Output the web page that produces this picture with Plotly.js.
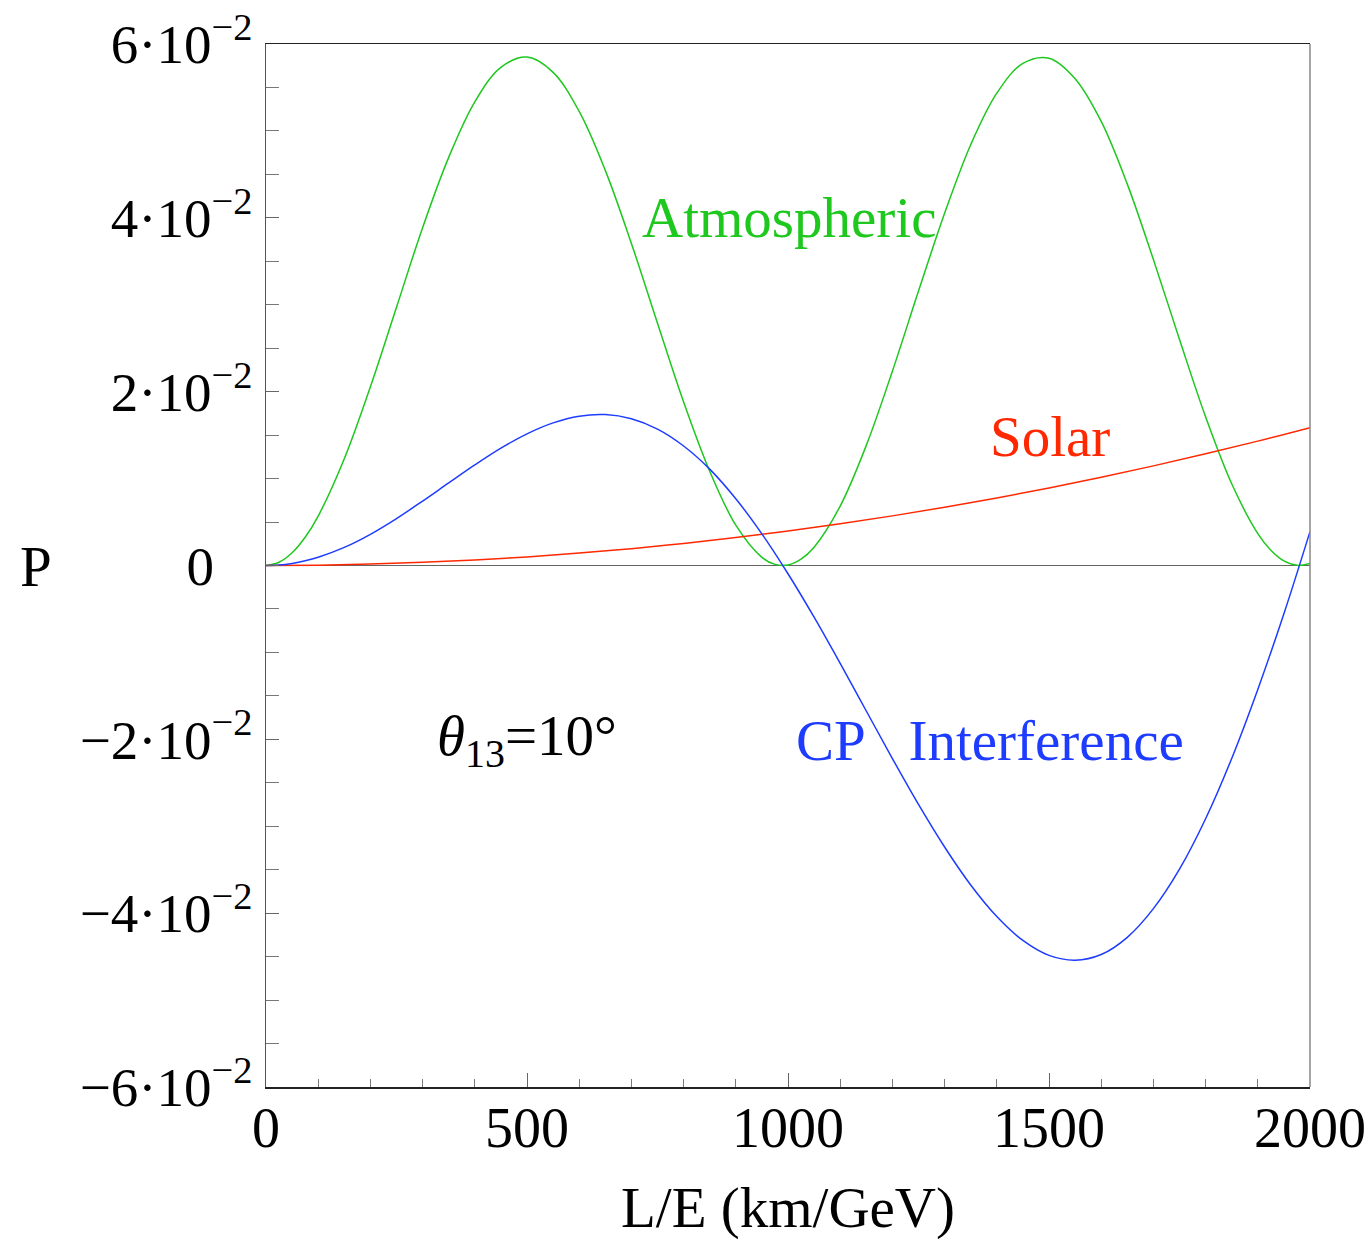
<!DOCTYPE html>
<html>
<head>
<meta charset="utf-8">
<script src="https://cdn.plot.ly/plotly-3.0.1.min.js"></script>
<style>html,body{margin:0;padding:0;background:#fff;}#chart{width:1372px;height:1240px;}</style>
</head>
<body>
<div id="chart"></div>
<script>
// L/E values (km/GeV) for the atmospheric term
const xAtm = [0,25,50,75,100,150,200,250,300,350,400,450,500,550,600,650,700,750,800,850,900,950,975,
  1000,1025,1050,1100,1150,1200,1250,1300,1350,1400,1450,1500,1550,1600,1650,1700,1750,1800,1850,1900,1925,1950,1975,2000];
// Atmospheric term
const atmospheric = [0,0.00037,0.00146,0.00325,0.00569,0.01228,0.02056,0.02971,0.03887,0.04696,0.05335,0.05732,0.05849,0.05673,0.05224,0.04546,0.03705,0.02788,0.01882,0.01085,0.00464,0.00094,0.00013,
  0.00006,0.00072,0.0021,0.00684,0.01382,0.02236,0.03157,0.04052,0.04841,0.05434,0.05778,0.05837,0.05601,0.05109,0.04388,0.0352,0.02601,0.0171,0.0094,0.00367,0.00176,0.00053,0.00002,0.00024];
// L/E values for the CP interference term
const xCP = [0,25,50,75,100,150,200,250,300,350,400,450,500,550,600,650,700,750,800,850,900,950,
  1000,1050,1100,1150,1200,1250,1300,1350,1400,1450,1500,1550,1600,1650,1700,1750,1800,1850,1900,1950,2000];
// CP interference term
const cpInterference = [0,0.00006,0.00024,0.00054,0.00095,0.00208,0.00359,0.0054,0.00741,0.0095,0.01157,0.0135,0.01515,0.01641,0.01718,0.01736,0.01688,0.01569,0.01375,0.01109,0.00768,0.00364,
  -0.00095,-0.00595,-0.01127,-0.01674,-0.02221,-0.02749,-0.03239,-0.03676,-0.04039,-0.04314,-0.04486,-0.04541,-0.04476,-0.04278,-0.03948,-0.03494,-0.02914,-0.0222,-0.01426,-0.00555,0.0039];
// Solar term
const xSolar = [0,100,200,300,400,500,600,700,800,900,1000,1100,1200,1300,1400,1500,1600,1700,1800,1900,2000];
const solar = [0,0.00004,0.00016,0.00036,0.00063,0.00099,0.00143,0.00194,0.00254,0.00321,0.00397,0.0048,0.00571,0.0067,0.00777,0.00892,0.01015,0.01146,0.01285,0.01431,0.01586];

const yTickVals = [-0.06,-0.04,-0.02,0,0.02,0.04,0.06];
const yTickText = ['\u22126·10<sup>\u22122</sup>','\u22124·10<sup>\u22122</sup>','\u22122·10<sup>\u22122</sup>','0\u00a0\u00a0\u2009','2·10<sup>\u22122</sup>','4·10<sup>\u22122</sup>','6·10<sup>\u22122</sup>'];
const xTickVals = [0,500,1000,1500,2000];
const xTickText = ['0','500','1000','1500','2000'];

const GREEN = 'rgb(30,200,30)', BLUE = 'rgb(30,60,255)', RED = 'rgb(255,40,0)';
const FONT = 'Liberation Serif, Times New Roman, serif';

const traces = [
  {x: xAtm, y: atmospheric, mode: 'lines', line: {color: GREEN, width: 1.5, shape: 'spline'}},
  {x: xSolar, y: solar, mode: 'lines', line: {color: RED, width: 1.5, shape: 'spline'}},
  {x: xCP, y: cpInterference, mode: 'lines', line: {color: BLUE, width: 1.5, shape: 'spline'}}
];

const layout = {
  width: 1372, height: 1240,
  margin: {l: 266, r: 62, t: 44, b: 153},
  paper_bgcolor: '#fff', plot_bgcolor: '#fff',
  showlegend: false,
  font: {family: FONT, size: 56, color: '#000'},
  xaxis: {
    range: [0, 2000], tickvals: xTickVals, ticktext: xTickText,
    ticks: 'inside', ticklen: 14, tickcolor: '#666', tickwidth: 1,
    minor: {dtick: 100, ticks: 'inside', ticklen: 8, tickcolor: '#777', tickwidth: 1},
    showgrid: false, zeroline: false,
    showline: true, linecolor: '#222', linewidth: 1.5, mirror: true,
    tickfont: {family: FONT, size: 56, color: '#000'},
    ticklabelstandoff: -9,
    title: {text: 'L/E (km/GeV)', font: {family: FONT, size: 57, color: '#000'}, standoff: 30}
  },
  yaxis: {
    range: [-0.06, 0.06], tickvals: yTickVals, ticktext: yTickText,
    ticks: 'inside', ticklen: 13, tickcolor: '#666', tickwidth: 1,
    minor: {dtick: 0.005, ticks: 'inside', ticklen: 13, tickcolor: '#777', tickwidth: 1},
    showgrid: false, zeroline: true, zerolinecolor: '#666', zerolinewidth: 1.5,
    showline: true, linecolor: '#555', linewidth: 1.5,
    tickfont: {family: FONT, size: 55, color: '#000'},
    ticklabelstandoff: 1
  },
  shapes: [
    {type: 'line', xref: 'paper', yref: 'paper', x0: 1, x1: 1, y0: 0, y1: 1, line: {color: '#888', width: 1.5}}
  ],
  annotations: [
    {x: 1002, y: 0.04, xref: 'x', yref: 'y', text: 'Atmospheric', showarrow: false, font: {family: FONT, size: 57, color: GREEN}},
    {x: 1502, y: 0.0148, xref: 'x', yref: 'y', text: 'Solar', showarrow: false, font: {family: FONT, size: 57, color: RED}},
    {x: 1387, y: -0.0201, xref: 'x', yref: 'y', text: 'CP\u00a0\u00a0\u00a0Interference', showarrow: false, font: {family: FONT, size: 57, color: BLUE}},
    {x: 500, y: -0.0201, xref: 'x', yref: 'y', text: '<i>θ</i><sub>13</sub>=10°', showarrow: false, font: {family: FONT, size: 57, color: '#000'}},
    {x: 0, y: 0.4995, xref: 'paper', yref: 'paper', xanchor: 'center', xshift: -230, text: 'P', showarrow: false, font: {family: FONT, size: 57, color: '#000'}}
  ]
};

Plotly.newPlot('chart', traces, layout, {staticPlot: true, displayModeBar: false});
</script>
</body>
</html>
